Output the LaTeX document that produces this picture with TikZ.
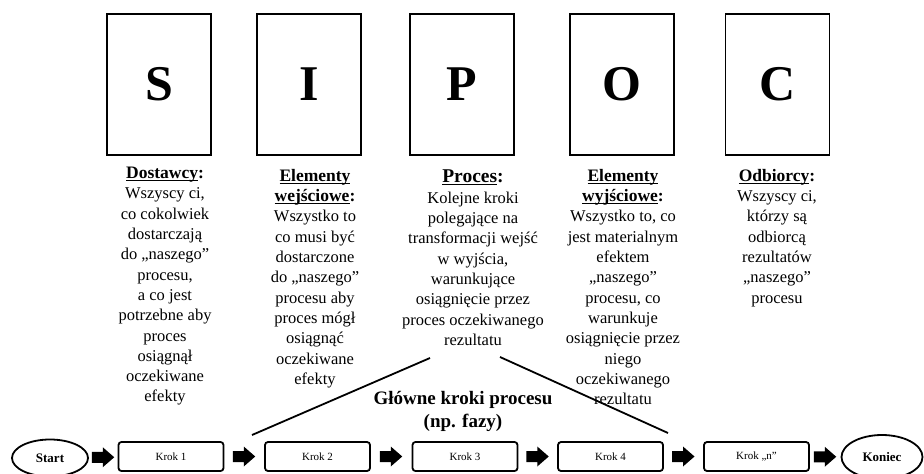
\documentclass[tikz,border=0pt]{standalone}
\usepackage{fontspec}
\setmainfont{Liberation Serif}
\usetikzlibrary{shapes.geometric}
% heading word with a flat underline just under the baseline
\newcommand\ulhead[1]{\setbox0=\hbox{#1}\rlap{\rule[-2.4pt]{\wd0}{0.9pt}}\box0}
% filled block arrow centred in the gap between two nodes
\newcommand\blockarrow[2]{%
  \path (#1.east) -- (#2.west) coordinate[midway] (#1-#2);
  \fill ([shift={(-11.5,-5.5)}]#1-#2) -- ++(11,0) -- ++(0,-4.5) -- ++(11.5,10)
    -- ++(-11.5,10) -- ++(0,-4.5) -- ++(-11,0) -- cycle;}
\begin{document}
\begin{tikzpicture}[x=1pt,y=-1pt,
  letterbox/.style={draw, line width=1.8pt, minimum width=104pt, minimum height=141pt,
    inner sep=0pt, font=\bfseries\fontsize{50}{50}\selectfont},
  coltext/.style={align=center, anchor=north, inner sep=0pt,
    font=\fontsize{16.5}{20.3}\selectfont},
  headfont/.style={},
  stepbox/.style={draw, line width=1.8pt, rounded corners=3pt, minimum width=105pt,
    minimum height=29pt, inner sep=0pt, font=\fontsize{11}{13}\selectfont},
  terminal/.style={draw, ellipse, line width=1.8pt, inner sep=0pt,
    font=\bfseries\fontsize{13}{14}\selectfont},
  joinline/.style={line width=1.8pt}]
\useasboundingbox (0,0) rectangle (924,474);

% SIPOC letter boxes
\node[letterbox] (S) at (159,84.5) {S};
\node[letterbox] (I) at (309,84.5) {I};
\node[letterbox] (P) at (462,84.5) {P};
\node[letterbox] (O) at (622,84.5) {O};
\node[letterbox] (C) at (777.5,84.5) {C};

% descriptions under the boxes
\newcommand\hd{\bfseries\fontsize{17.5}{20.3}\selectfont}
\node[coltext] (dS) at (165,167) {\hd\ulhead{Dostawcy}:\\ Wszyscy ci,\\ co cokolwiek\\ dostarczają\\ do „naszego”\\ procesu,\\ a co jest\\ potrzebne aby\\ proces\\ osiągnął\\ oczekiwane\\ efekty};
\node[coltext] (dI) at (315,169) {\hd\ulhead{Elementy}\\ \hd\ulhead{wejściowe}:\\ Wszystko to\\ co musi być\\ dostarczone\\ do „naszego”\\ procesu aby\\ proces mógł\\ osiągnąć\\ oczekiwane\\ efekty};
\node[coltext] (dP) at (473,170) {\bfseries\fontsize{19.5}{21}\selectfont\ulhead{Proces}:\\ Kolejne kroki\\ polegające na\\ transformacji wejść\\ w wyjścia,\\ warunkujące\\ osiągnięcie przez\\ proces oczekiwanego\\ rezultatu};
\node[coltext] (dO) at (623,169) {\hd\ulhead{Elementy}\\ \hd\ulhead{wyjściowe}:\\ Wszystko to, co\\ jest materialnym\\ efektem\\ „naszego”\\ procesu, co\\ warunkuje\\ osiągnięcie przez\\ niego\\ oczekiwanego\\ rezultatu};
\node[coltext] (dC) at (777,169) {\hd\ulhead{Odbiorcy}:\\ Wszyscy ci,\\ którzy są\\ odbiorcą\\ rezultatów\\ „naszego”\\ procesu};

% main process steps
\node[terminal, minimum width=76pt, minimum height=37pt] (start) at (50,458) {Start};
\node[stepbox] (k1) at (171,456.5) {Krok 1};
\node[stepbox] (k2) at (317.5,456.5) {Krok 2};
\node[stepbox] (k3) at (465,456.5) {Krok 3};
\node[stepbox] (k4) at (610.5,456.5) {Krok 4};
\node[stepbox] (kn) at (756.5,456.5) {Krok „n”};
\node[terminal, minimum width=81pt, minimum height=44pt] (end) at (882,457) {Koniec};

\blockarrow{start}{k1}
\blockarrow{k1}{k2}
\blockarrow{k2}{k3}
\blockarrow{k3}{k4}
\blockarrow{k4}{kn}
\blockarrow{kn}{end}

% caption of the step row, bracketed by two lines from the process description
\node[align=center, inner sep=0pt, font=\bfseries\fontsize{19}{23}\selectfont] (title) at (463,411) {Główne kroki procesu\\ (np. fazy)};
\coordinate (ll) at (252,435);
\coordinate (lt) at (430,358);
\coordinate (rt) at (500,357);
\coordinate (rl) at (668,433);
\draw[joinline] (ll) -- (lt);
\draw[joinline] (rt) -- (rl);
\end{tikzpicture}
\end{document}
